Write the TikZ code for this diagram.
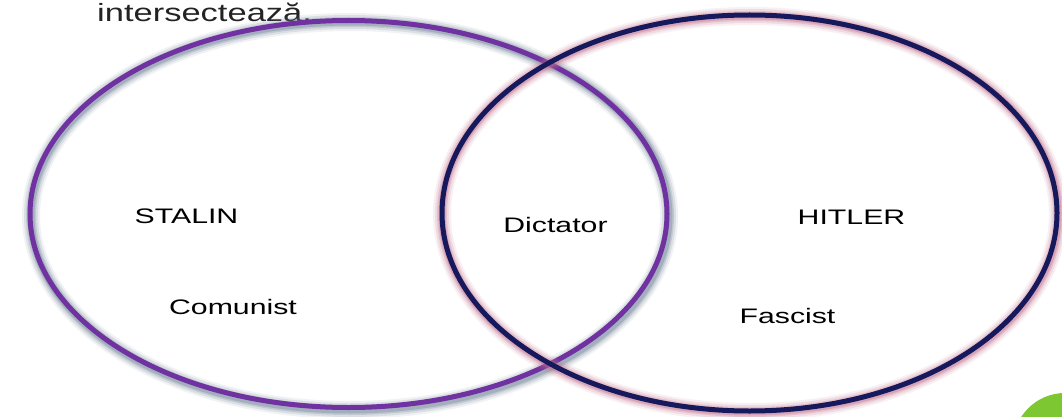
\documentclass[tikz,border=0pt]{standalone}
\usepackage{fontspec}
\newfontfamily\labfont[FakeStretch=1.44]{Liberation Sans}
\newfontfamily\titfont[FakeStretch=1.38]{Liberation Sans}
\definecolor{vennpurple}{RGB}{112,50,160}
\definecolor{vennnavy}{RGB}{22,26,92}
\definecolor{glowgrey}{RGB}{110,130,150}
\definecolor{glowpink}{RGB}{195,110,140}
\definecolor{venngreen}{RGB}{125,200,50}
\definecolor{titgrey}{RGB}{35,35,35}
\tikzset{
  lab/.style={font=\labfont\fontsize{21}{24}\selectfont, text=black, inner sep=0pt, anchor=base},
  ringline/.style={line width=5pt},
}
\begin{document}
\begin{tikzpicture}[x=1pt,y=-1pt]
\useasboundingbox (0,0) rectangle (1062,417);
\clip (0,0) rectangle (1062,417);
\fill[white] (0,0) rectangle (1062,417);
% green corner circle
\fill[venngreen] (1065,445) circle (52);
% title text (cut off at top)
\node[font=\titfont\fontsize{25}{28}\selectfont, text=titgrey, inner sep=0pt, anchor=base west] (title) at (97,22) {intersectează.};
% purple ellipse with grey glow
\foreach \w/\o in {18/0.10,14/0.16,10/0.24,7/0.35}
  \draw[glowgrey, line width=\w pt, opacity=\o] (350,216) ellipse [x radius=319, y radius=194];
\draw[vennpurple, ringline] (348.5,214) ellipse [x radius=318.5, y radius=193.5];
% navy ellipse with pink glow
\foreach \w/\o in {18/0.10,14/0.16,10/0.24,7/0.35}
  \draw[glowpink, line width=\w pt, opacity=\o] (750,214) ellipse [x radius=308, y radius=198];
\draw[vennnavy, ringline] (749.5,213) ellipse [x radius=307.5, y radius=198];
% labels
\node[lab] (stalin) at (186.5,223.5) {STALIN};
\node[lab] (comunist) at (233,314) {Comunist};
\node[lab] (dictator) at (555.5,232) {Dictator};
\node[lab] (hitler) at (851.5,224) {HITLER};
\node[lab] (fascist) at (787.5,323) {Fascist};
\end{tikzpicture}
\end{document}
